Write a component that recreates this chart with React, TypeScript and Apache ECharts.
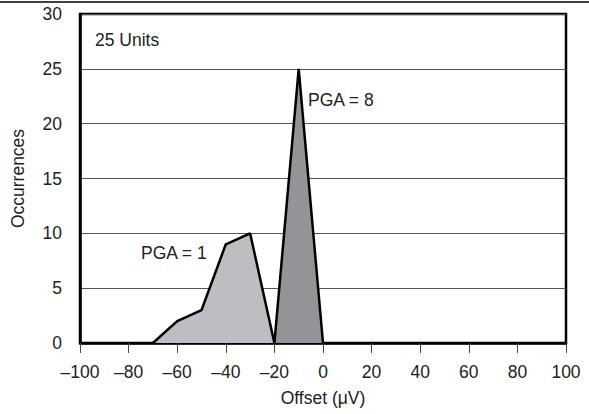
import React, { useEffect, useRef } from "react";
import * as echarts from "echarts";

const xTicks = [-100, -80, -60, -40, -20, 0, 20, 40, 60, 80, 100];
const pga1X = [-70, -60, -50, -40, -30, -20];
const pga1Y = [0, 2, 3, 9, 10, 0];
const pga8X = [-20, -10, 0];
const pga8Y = [0, 25, 0];

const FONT = "Liberation Sans, Arial, Helvetica, sans-serif";
const TXT = "#222";
const FS = 17.5;

export default function App() {
  const ref = useRef<HTMLDivElement>(null);
  useEffect(() => {
    if (!ref.current) return;
    const chart = echarts.init(ref.current, undefined, { renderer: "svg" });
    chart.setOption({
      animation: false,
      textStyle: { fontFamily: FONT },
      grid: {
        left: 80,
        right: 23,
        top: 14,
        bottom: 71,
        show: true,
        borderColor: "#000",
        borderWidth: 2.5,
        backgroundColor: "transparent",
      },
      xAxis: {
        type: "value",
        min: xTicks[0],
        max: xTicks[xTicks.length - 1],
        interval: 20,
        name: "Offset (\u03bcV)",
        nameLocation: "middle",
        nameGap: 46,
        nameTextStyle: { fontSize: FS, color: TXT, fontFamily: FONT },
        axisLine: { show: true, onZero: false, lineStyle: { color: "#000", width: 2.5 } },
        axisTick: { show: true, inside: false, length: 10, lineStyle: { color: "#444", width: 1 } },
        axisLabel: {
          fontSize: FS,
          color: TXT,
          margin: 20,
          fontFamily: FONT,
          formatter: (v: number) => (v < 0 ? "\u2013" + Math.abs(v) : String(v)),
        },
        splitLine: { show: false },
      },
      yAxis: {
        type: "value",
        min: 0,
        max: 30,
        interval: 5,
        name: "Occurrences",
        nameLocation: "middle",
        nameGap: 53,
        nameRotate: 90,
        nameTextStyle: { fontSize: FS, color: TXT, fontFamily: FONT },
        axisLine: { show: true, onZero: false, lineStyle: { color: "#000", width: 2.5 } },
        axisTick: { show: false },
        axisLabel: { fontSize: FS, color: TXT, margin: 18, fontFamily: FONT },
        splitLine: { show: true, lineStyle: { color: "#555", width: 1 } },
      },
      series: [
        {
          type: "line",
          data: pga1X.map((x, i) => [x, pga1Y[i]]),
          symbol: "none",
          lineStyle: { color: "#000", width: 2.5 },
          areaStyle: { color: "#bdbec2", opacity: 1 },
          z: 3,
        },
        {
          type: "line",
          data: pga8X.map((x, i) => [x, pga8Y[i]]),
          symbol: "none",
          lineStyle: { color: "#000", width: 2.5 },
          areaStyle: { color: "#939497", opacity: 1 },
          z: 4,
        },
      ],
      graphic: [
        {
          type: "line",
          shape: { x1: 0, y1: 2, x2: 589, y2: 2 },
          style: { stroke: "#000", lineWidth: 1.5 },
        },
        {
          type: "text",
          left: 95,
          top: 31,
          style: { text: "25 Units", fontSize: FS, fill: TXT, fontFamily: FONT },
        },
        {
          type: "text",
          left: 308,
          top: 91,
          style: { text: "PGA = 8", fontSize: FS, fill: TXT, fontFamily: FONT },
        },
        {
          type: "text",
          left: 141,
          top: 244,
          style: { text: "PGA = 1", fontSize: FS, fill: TXT, fontFamily: FONT },
        },
      ],
    });
    return () => chart.dispose();
  }, []);
  return <div ref={ref} style={{ width: 589, height: 414, position: "absolute", left: 0, top: 0 }} />;
}
